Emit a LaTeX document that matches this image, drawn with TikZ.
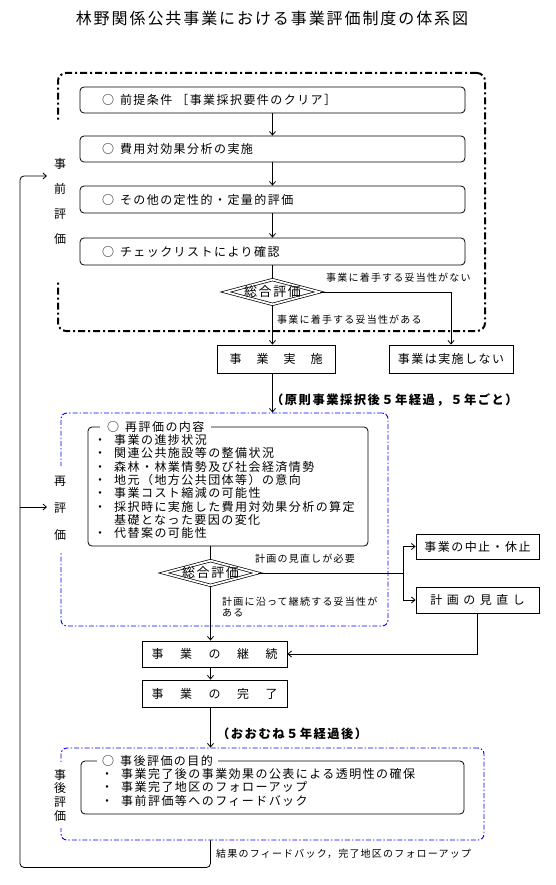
\documentclass[tikz,border=0pt]{standalone}
\usepackage{fontspec}
\setmainfont{Noto Sans CJK JP}[LetterSpace=12]
\usetikzlibrary{shapes.geometric,arrows.meta}
\newcommand{\msz}{\fontsize{12}{13}\selectfont}
\newcommand{\ssz}{\fontsize{10}{11.3}\selectfont}
\newcommand{\bsz}{\bfseries\fontsize{12.3}{13}\selectfont}
\begin{document}
\begin{tikzpicture}[x=1pt,y=-1pt,
  ln/.style={line width=0.8pt},
  arr/.style={line width=0.8pt,-{Straight Barb[length=3.5pt,width=6pt]}},
  rbox/.style={draw,line width=0.8pt,rounded corners=4pt,inner sep=0pt,font=\msz},
  sbox/.style={draw,line width=0.9pt,inner sep=0pt,font=\msz},
  dia/.style={diamond,draw,double,double distance=1.8pt,line width=0.7pt,inner sep=0pt,
    minimum width=94pt,minimum height=25pt,font=\fontsize{13}{13}\selectfont},
  prefr/.style={draw,line width=2pt,dash pattern=on 7pt off 3pt on 2pt off 3pt,rounded corners=8pt,inner sep=0pt},
  bluefr/.style={draw=blue,line width=0.9pt,dash pattern=on 5pt off 2pt on 1.5pt off 2pt,rounded corners=6pt,inner sep=0pt},
  side/.style={fill=white,inner sep=0pt,minimum width=14pt,align=center},
  small/.style={font=\ssz,inner sep=0pt,anchor=west},
  bold/.style={font=\bsz,inner sep=0pt,anchor=west},
  item/.style={font=\msz,inner sep=0pt,anchor=west},
  ttl/.style={fill=white,inner ysep=1pt,anchor=west,font=\msz}
]
\useasboundingbox (0,0) rectangle (556,885);
\fill[white] (0,0) rectangle (556,885);

\node[inner sep=0pt,font=\fontsize{16}{16}\selectfont] (title) at (272,18) {林野関係公共事業における事業評価制度の体系図};

% ---- pre-evaluation
\node[prefr,minimum width=427pt,minimum height=258pt] (pre) at (271.5,202) {};
\node[side,minimum height=157pt,font=\fontsize{12}{25}\selectfont] (prel) at (60,201) {事\\前\\評\\価};

\tikzset{pbox/.style={rbox,minimum width=385pt,text width=341pt,inner xsep=22pt,align=left}}
\node[pbox,minimum height=26pt] (p1) at (272.5,100) {○\enspace 前提条件 ［事業採択要件のクリア］};
\node[pbox,minimum height=26pt] (p2) at (272.5,149) {○\enspace 費用対効果分析の実施};
\node[pbox,minimum height=27pt] (p3) at (272.5,199.5) {○\enspace その他の定性的・定量的評価};
\node[pbox,minimum height=27pt] (p4) at (272.5,251.5) {○\enspace チェックリストにより確認};
\draw[arr] (p1.south) -- (p2.north);
\draw[arr] (p2.south) -- (p3.north);
\draw[arr] (p3.south) -- (p4.north);

\node[dia] (d1) at (272.5,292) {\makebox[0pt]{総合評価}};
\draw[ln] (p4.south) -- (d1.north);

\node[sbox,minimum width=118pt,minimum height=28pt] (e1) at (276,359) {事\hspace{15pt}業\hspace{15pt}実\hspace{15pt}施};
\node[sbox,minimum width=124pt,minimum height=28pt] (n1) at (451,359) {事業は実施しない};
\draw[arr] (d1.south) -- (d1.south |- e1.north);
\draw[arr] (d1.east) -| (n1.north);
\node[small] (l1) at (326,278) {事業に着手する妥当性がない};
\node[small] (l2) at (277,320) {事業に着手する妥当性がある};

\node[bold] (b1) at (271,400) {（原則事業採択後５年経過，５年ごと）};

% ---- re-evaluation
\node[bluefr,minimum width=327pt,minimum height=213pt] (re) at (224.5,519.5) {};
\draw[arr] (d1.south |- e1.south) -- (d1.south |- re.north);
\node[side,minimum height=85pt,font=\fontsize{12}{27}\selectfont] (rel) at (60,508) {再\\評\\価};
\node[rbox,minimum width=280pt,minimum height=119pt] (ri) at (228,486.5) {};
\node[ttl,inner xsep=7pt] (rit) at (100,427) {○\enspace 再評価の内容};
\node[item] (r1) at (94,440) {\makebox[20pt][l]{・}事業の進捗状況};
\node[item] (r2) at (94,453.3) {\makebox[20pt][l]{・}関連公共施設等の整備状況};
\node[item] (r3) at (94,466.6) {\makebox[20pt][l]{・}森林・林業情勢及び社会経済情勢};
\node[item] (r4) at (94,479.9) {\makebox[20pt][l]{・}地元（地方公共団体等）の意向};
\node[item] (r5) at (94,493.2) {\makebox[20pt][l]{・}事業コスト縮減の可能性};
\node[item] (r6) at (94,506.5) {\makebox[20pt][l]{・}採択時に実施した費用対効果分析の算定};
\node[item] (r7) at (94,519.8) {\makebox[20pt][l]{}基礎となった要因の変化};
\node[item] (r8) at (94,533.1) {\makebox[20pt][l]{・}代替案の可能性};

\node[dia] (d2) at (210.5,573) {\makebox[0pt]{総合評価}};
\draw[ln] (d2.north |- ri.south) -- (d2.north);
\coordinate (br) at (403,573);
\draw[ln] (d2.east) -- (br);
\node[sbox,minimum width=123pt,minimum height=25pt] (s1) at (477.5,546.5) {事業の中止・休止};
\node[sbox,minimum width=123pt,minimum height=26pt] (s2) at (477.5,600) {計\hspace{4.5pt}画\hspace{4.5pt}の\hspace{4.5pt}見\hspace{4.5pt}直\hspace{4.5pt}し};
\draw[arr] (br) |- (s1.west);
\draw[arr] (br) |- (s2.west);
\node[small] (l3) at (255,559) {計画の見直しが必要};
\node[small,align=left] (l4) at (222,607.3) {計画に沿って継続する妥当性が\\ある};

% ---- continuation / completion
\node[sbox,minimum width=145pt,minimum height=26pt] (c1) at (214.5,654) {事\hspace{16.5pt}業\hspace{16.5pt}の\hspace{16.5pt}継\hspace{16.5pt}続};
\node[sbox,minimum width=145pt,minimum height=27pt] (c2) at (214.5,693.5) {事\hspace{16.5pt}業\hspace{16.5pt}の\hspace{16.5pt}完\hspace{16.5pt}了};
\draw[arr] (d2.south) -- (d2.south |- c1.north);
\draw[arr] (s2.south) |- (c1.east);
\draw[arr] (d2.south |- c1.south) -- (d2.south |- c2.north);

\node[bold] (b2) at (217,734) {（おおむね５年経過後）};

% ---- post-evaluation
\node[bluefr,minimum width=423pt,minimum height=92pt] (po) at (272.5,794) {};
\draw[arr] (d2.south |- c2.south) -- (d2.south |- po.north);
\node[side,minimum height=66pt,font=\fontsize{12}{13.7}\selectfont] (pol) at (60,795) {事\\後\\評\\価};
\node[rbox,minimum width=383pt,minimum height=53pt] (qi) at (272.5,787.5) {};
\node[ttl,inner xsep=5pt] (qit) at (97,761) {○\enspace 事後評価の目的\hspace{8pt}};
\node[item] (q1) at (101,774) {\makebox[20pt][l]{・}事業完了後の事業効果の公表による透明性の確保};
\node[item] (q2) at (101,787.3) {\makebox[20pt][l]{・}事業完了地区のフォローアップ};
\node[item] (q3) at (101,800.6) {\makebox[20pt][l]{・}事前評価等へのフィードバック};

% ---- feedback loop
\coordinate (fb1) at (47,176);
\coordinate (fbj) at (20,507);
\coordinate (fb2) at (47,507);
\draw[arr,rounded corners=4pt] (d2.south |- po.south) -- ++(0,27) -| (fbj) |- (fb1);
\draw[arr] (fbj) -- (fb2);
\node[small] (l5) at (216,854) {結果のフィードバック，完了地区のフォローアップ};
\end{tikzpicture}
\end{document}
